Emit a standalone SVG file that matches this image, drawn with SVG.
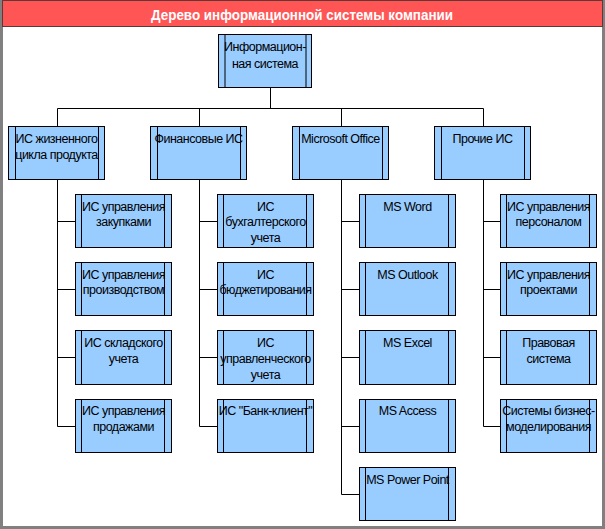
<svg xmlns="http://www.w3.org/2000/svg" width="605" height="529" viewBox="0 0 605 529">
<style>
.box{fill:#99CCFF;stroke:#000;stroke-width:1}
.bar{stroke:#000;stroke-width:1}
.lbl{font-family:"Liberation Sans",Arial,sans-serif;font-size:12.5px;letter-spacing:-0.5px;fill:#000;text-anchor:middle}
.conn line{stroke:#000;stroke-width:1;fill:none}
.title{font-family:"Liberation Sans",Arial,sans-serif;font-size:14px;font-weight:bold;fill:#fff;text-anchor:middle}
</style>
<rect x="0" y="0" width="605" height="529" fill="#fff"/>
<rect x="1.5" y="1.5" width="602" height="526" fill="none" stroke="#808080" stroke-width="3"/>
<g id="title">
<rect x="2.5" y="0.5" width="600" height="26" fill="#FF5555" stroke="#603838" stroke-width="1"/>
<text class="title" x="302" y="19.5" textLength="302" lengthAdjust="spacingAndGlyphs">Дерево информационной системы компании</text>
</g>
<g class="conn" id="connectors">
<line x1="270.5" y1="87.5" x2="270.5" y2="108.5"/>
<line x1="57.5" y1="108.5" x2="483.5" y2="108.5"/>
<line x1="57.5" y1="108.5" x2="57.5" y2="126.5"/>
<line x1="199.5" y1="108.5" x2="199.5" y2="126.5"/>
<line x1="341.5" y1="108.5" x2="341.5" y2="126.5"/>
<line x1="483.5" y1="108.5" x2="483.5" y2="126.5"/>
<line x1="57.5" y1="179.5" x2="57.5" y2="426.5"/>
<line x1="199.5" y1="179.5" x2="199.5" y2="426.5"/>
<line x1="341.5" y1="179.5" x2="341.5" y2="494.5"/>
<line x1="483.5" y1="179.5" x2="483.5" y2="426.5"/>
<line x1="57.5" y1="221.5" x2="75.5" y2="221.5"/>
<line x1="57.5" y1="289.5" x2="75.5" y2="289.5"/>
<line x1="57.5" y1="357.5" x2="75.5" y2="357.5"/>
<line x1="57.5" y1="426.5" x2="75.5" y2="426.5"/>
<line x1="199.5" y1="221.5" x2="217.5" y2="221.5"/>
<line x1="199.5" y1="289.5" x2="217.5" y2="289.5"/>
<line x1="199.5" y1="357.5" x2="217.5" y2="357.5"/>
<line x1="199.5" y1="426.5" x2="217.5" y2="426.5"/>
<line x1="341.5" y1="221.5" x2="359.5" y2="221.5"/>
<line x1="341.5" y1="289.5" x2="359.5" y2="289.5"/>
<line x1="341.5" y1="357.5" x2="359.5" y2="357.5"/>
<line x1="341.5" y1="426.5" x2="359.5" y2="426.5"/>
<line x1="341.5" y1="494.5" x2="359.5" y2="494.5"/>
<line x1="483.5" y1="221.5" x2="501.5" y2="221.5"/>
<line x1="483.5" y1="289.5" x2="501.5" y2="289.5"/>
<line x1="483.5" y1="357.5" x2="501.5" y2="357.5"/>
<line x1="483.5" y1="426.5" x2="501.5" y2="426.5"/>
</g>
<g id="root">
<rect class="box" x="218.5" y="34.5" width="93" height="53"/>
<line class="bar" x1="225" y1="34.5" x2="225" y2="87.5"/><line class="bar" x1="306" y1="34.5" x2="306" y2="87.5"/>
<text class="lbl" x="265" y="51">Информацион-</text><text class="lbl" x="265" y="68">ная система</text>
</g>
<g id="l1-1">
<rect class="box" x="8.5" y="126.5" width="96" height="53"/>
<line class="bar" x1="15.5" y1="126.5" x2="15.5" y2="179.5"/><line class="bar" x1="98.5" y1="126.5" x2="98.5" y2="179.5"/>
<text class="lbl" x="56.5" y="142.5">ИС жизненного</text><text class="lbl" x="56.5" y="159">цикла продукта</text>
</g>
<g id="l1-2">
<rect class="box" x="150.5" y="126.5" width="96" height="53"/>
<line class="bar" x1="157.5" y1="126.5" x2="157.5" y2="179.5"/><line class="bar" x1="240.5" y1="126.5" x2="240.5" y2="179.5"/>
<text class="lbl" x="198.5" y="142.5">Финансовые ИС</text>
</g>
<g id="l1-3">
<rect class="box" x="292.5" y="126.5" width="96" height="53"/>
<line class="bar" x1="299.5" y1="126.5" x2="299.5" y2="179.5"/><line class="bar" x1="382.5" y1="126.5" x2="382.5" y2="179.5"/>
<text class="lbl" x="340.5" y="142.5">Microsoft Office</text>
</g>
<g id="l1-4">
<rect class="box" x="434.5" y="126.5" width="96" height="53"/>
<line class="bar" x1="441.5" y1="126.5" x2="441.5" y2="179.5"/><line class="bar" x1="524.5" y1="126.5" x2="524.5" y2="179.5"/>
<text class="lbl" x="482.5" y="142.5">Прочие ИС</text>
</g>
<!-- column 1 -->
<g id="c1-1"><rect class="box" x="75.5" y="194.5" width="96" height="53"/><line class="bar" x1="81.5" y1="194.5" x2="81.5" y2="247.5"/><line class="bar" x1="164.5" y1="194.5" x2="164.5" y2="247.5"/>
<text class="lbl" x="123.5" y="210.5">ИС управления</text><text class="lbl" x="123.5" y="226">закупками</text></g>
<g id="c1-2"><rect class="box" x="75.5" y="262.5" width="96" height="53"/><line class="bar" x1="81.5" y1="262.5" x2="81.5" y2="315.5"/><line class="bar" x1="164.5" y1="262.5" x2="164.5" y2="315.5"/>
<text class="lbl" x="123.5" y="278.5">ИС управления</text><text class="lbl" x="123.5" y="294">производством</text></g>
<g id="c1-3"><rect class="box" x="75.5" y="330.5" width="96" height="54"/><line class="bar" x1="81.5" y1="330.5" x2="81.5" y2="384.5"/><line class="bar" x1="164.5" y1="330.5" x2="164.5" y2="384.5"/>
<text class="lbl" x="123.5" y="346.5">ИС складского</text><text class="lbl" x="123.5" y="362.5">учета</text></g>
<g id="c1-4"><rect class="box" x="75.5" y="399.5" width="96" height="53"/><line class="bar" x1="81.5" y1="399.5" x2="81.5" y2="452.5"/><line class="bar" x1="164.5" y1="399.5" x2="164.5" y2="452.5"/>
<text class="lbl" x="123.5" y="415">ИС управления</text><text class="lbl" x="123.5" y="431">продажами</text></g>
<!-- column 2 -->
<g id="c2-1"><rect class="box" x="217.5" y="194.5" width="96" height="53"/><line class="bar" x1="223.5" y1="194.5" x2="223.5" y2="247.5"/><line class="bar" x1="306.5" y1="194.5" x2="306.5" y2="247.5"/>
<text class="lbl" x="265.5" y="210.5">ИС</text><text class="lbl" x="265.5" y="226">бухгалтерского</text><text class="lbl" x="265.5" y="242">учета</text></g>
<g id="c2-2"><rect class="box" x="217.5" y="262.5" width="96" height="53"/><line class="bar" x1="223.5" y1="262.5" x2="223.5" y2="315.5"/><line class="bar" x1="306.5" y1="262.5" x2="306.5" y2="315.5"/>
<text class="lbl" x="265.5" y="278.5">ИС</text><text class="lbl" x="265.5" y="294">бюджетирования</text></g>
<g id="c2-3"><rect class="box" x="217.5" y="330.5" width="96" height="54"/><line class="bar" x1="223.5" y1="330.5" x2="223.5" y2="384.5"/><line class="bar" x1="306.5" y1="330.5" x2="306.5" y2="384.5"/>
<text class="lbl" x="265.5" y="346.5">ИС</text><text class="lbl" x="265.5" y="362.5">управленческого</text><text class="lbl" x="265.5" y="378.5">учета</text></g>
<g id="c2-4"><rect class="box" x="217.5" y="399.5" width="96" height="53"/><line class="bar" x1="223.5" y1="399.5" x2="223.5" y2="452.5"/><line class="bar" x1="306.5" y1="399.5" x2="306.5" y2="452.5"/>
<text class="lbl" x="265.5" y="415">ИС "Банк-клиент"</text></g>
<!-- column 3 -->
<g id="c3-1"><rect class="box" x="359.5" y="194.5" width="96" height="53"/><line class="bar" x1="365.5" y1="194.5" x2="365.5" y2="247.5"/><line class="bar" x1="448.5" y1="194.5" x2="448.5" y2="247.5"/>
<text class="lbl" x="407.5" y="210.5">MS Word</text></g>
<g id="c3-2"><rect class="box" x="359.5" y="262.5" width="96" height="53"/><line class="bar" x1="365.5" y1="262.5" x2="365.5" y2="315.5"/><line class="bar" x1="448.5" y1="262.5" x2="448.5" y2="315.5"/>
<text class="lbl" x="407.5" y="278.5">MS Outlook</text></g>
<g id="c3-3"><rect class="box" x="359.5" y="330.5" width="96" height="54"/><line class="bar" x1="365.5" y1="330.5" x2="365.5" y2="384.5"/><line class="bar" x1="448.5" y1="330.5" x2="448.5" y2="384.5"/>
<text class="lbl" x="407.5" y="346.5">MS Excel</text></g>
<g id="c3-4"><rect class="box" x="359.5" y="399.5" width="96" height="53"/><line class="bar" x1="365.5" y1="399.5" x2="365.5" y2="452.5"/><line class="bar" x1="448.5" y1="399.5" x2="448.5" y2="452.5"/>
<text class="lbl" x="407.5" y="415">MS Access</text></g>
<g id="c3-5"><rect class="box" x="359.5" y="467.5" width="96" height="53"/><line class="bar" x1="365.5" y1="467.5" x2="365.5" y2="520.5"/><line class="bar" x1="448.5" y1="467.5" x2="448.5" y2="520.5"/>
<text class="lbl" x="407.5" y="483.5">MS Power Point</text></g>
<!-- column 4 -->
<g id="c4-1"><rect class="box" x="500.5" y="194.5" width="96" height="53"/><line class="bar" x1="506.5" y1="194.5" x2="506.5" y2="247.5"/><line class="bar" x1="589.5" y1="194.5" x2="589.5" y2="247.5"/>
<text class="lbl" x="548.5" y="210.5">ИС управления</text><text class="lbl" x="548.5" y="226">персоналом</text></g>
<g id="c4-2"><rect class="box" x="500.5" y="262.5" width="96" height="53"/><line class="bar" x1="506.5" y1="262.5" x2="506.5" y2="315.5"/><line class="bar" x1="589.5" y1="262.5" x2="589.5" y2="315.5"/>
<text class="lbl" x="548.5" y="278.5">ИС управления</text><text class="lbl" x="548.5" y="294">проектами</text></g>
<g id="c4-3"><rect class="box" x="500.5" y="330.5" width="96" height="54"/><line class="bar" x1="506.5" y1="330.5" x2="506.5" y2="384.5"/><line class="bar" x1="589.5" y1="330.5" x2="589.5" y2="384.5"/>
<text class="lbl" x="548.5" y="346.5">Правовая</text><text class="lbl" x="548.5" y="362.5">система</text></g>
<g id="c4-4"><rect class="box" x="500.5" y="399.5" width="96" height="53"/><line class="bar" x1="506.5" y1="399.5" x2="506.5" y2="452.5"/><line class="bar" x1="589.5" y1="399.5" x2="589.5" y2="452.5"/>
<text class="lbl" x="548.5" y="415">Системы бизнес-</text><text class="lbl" x="548.5" y="431">моделирования</text></g>
</svg>
